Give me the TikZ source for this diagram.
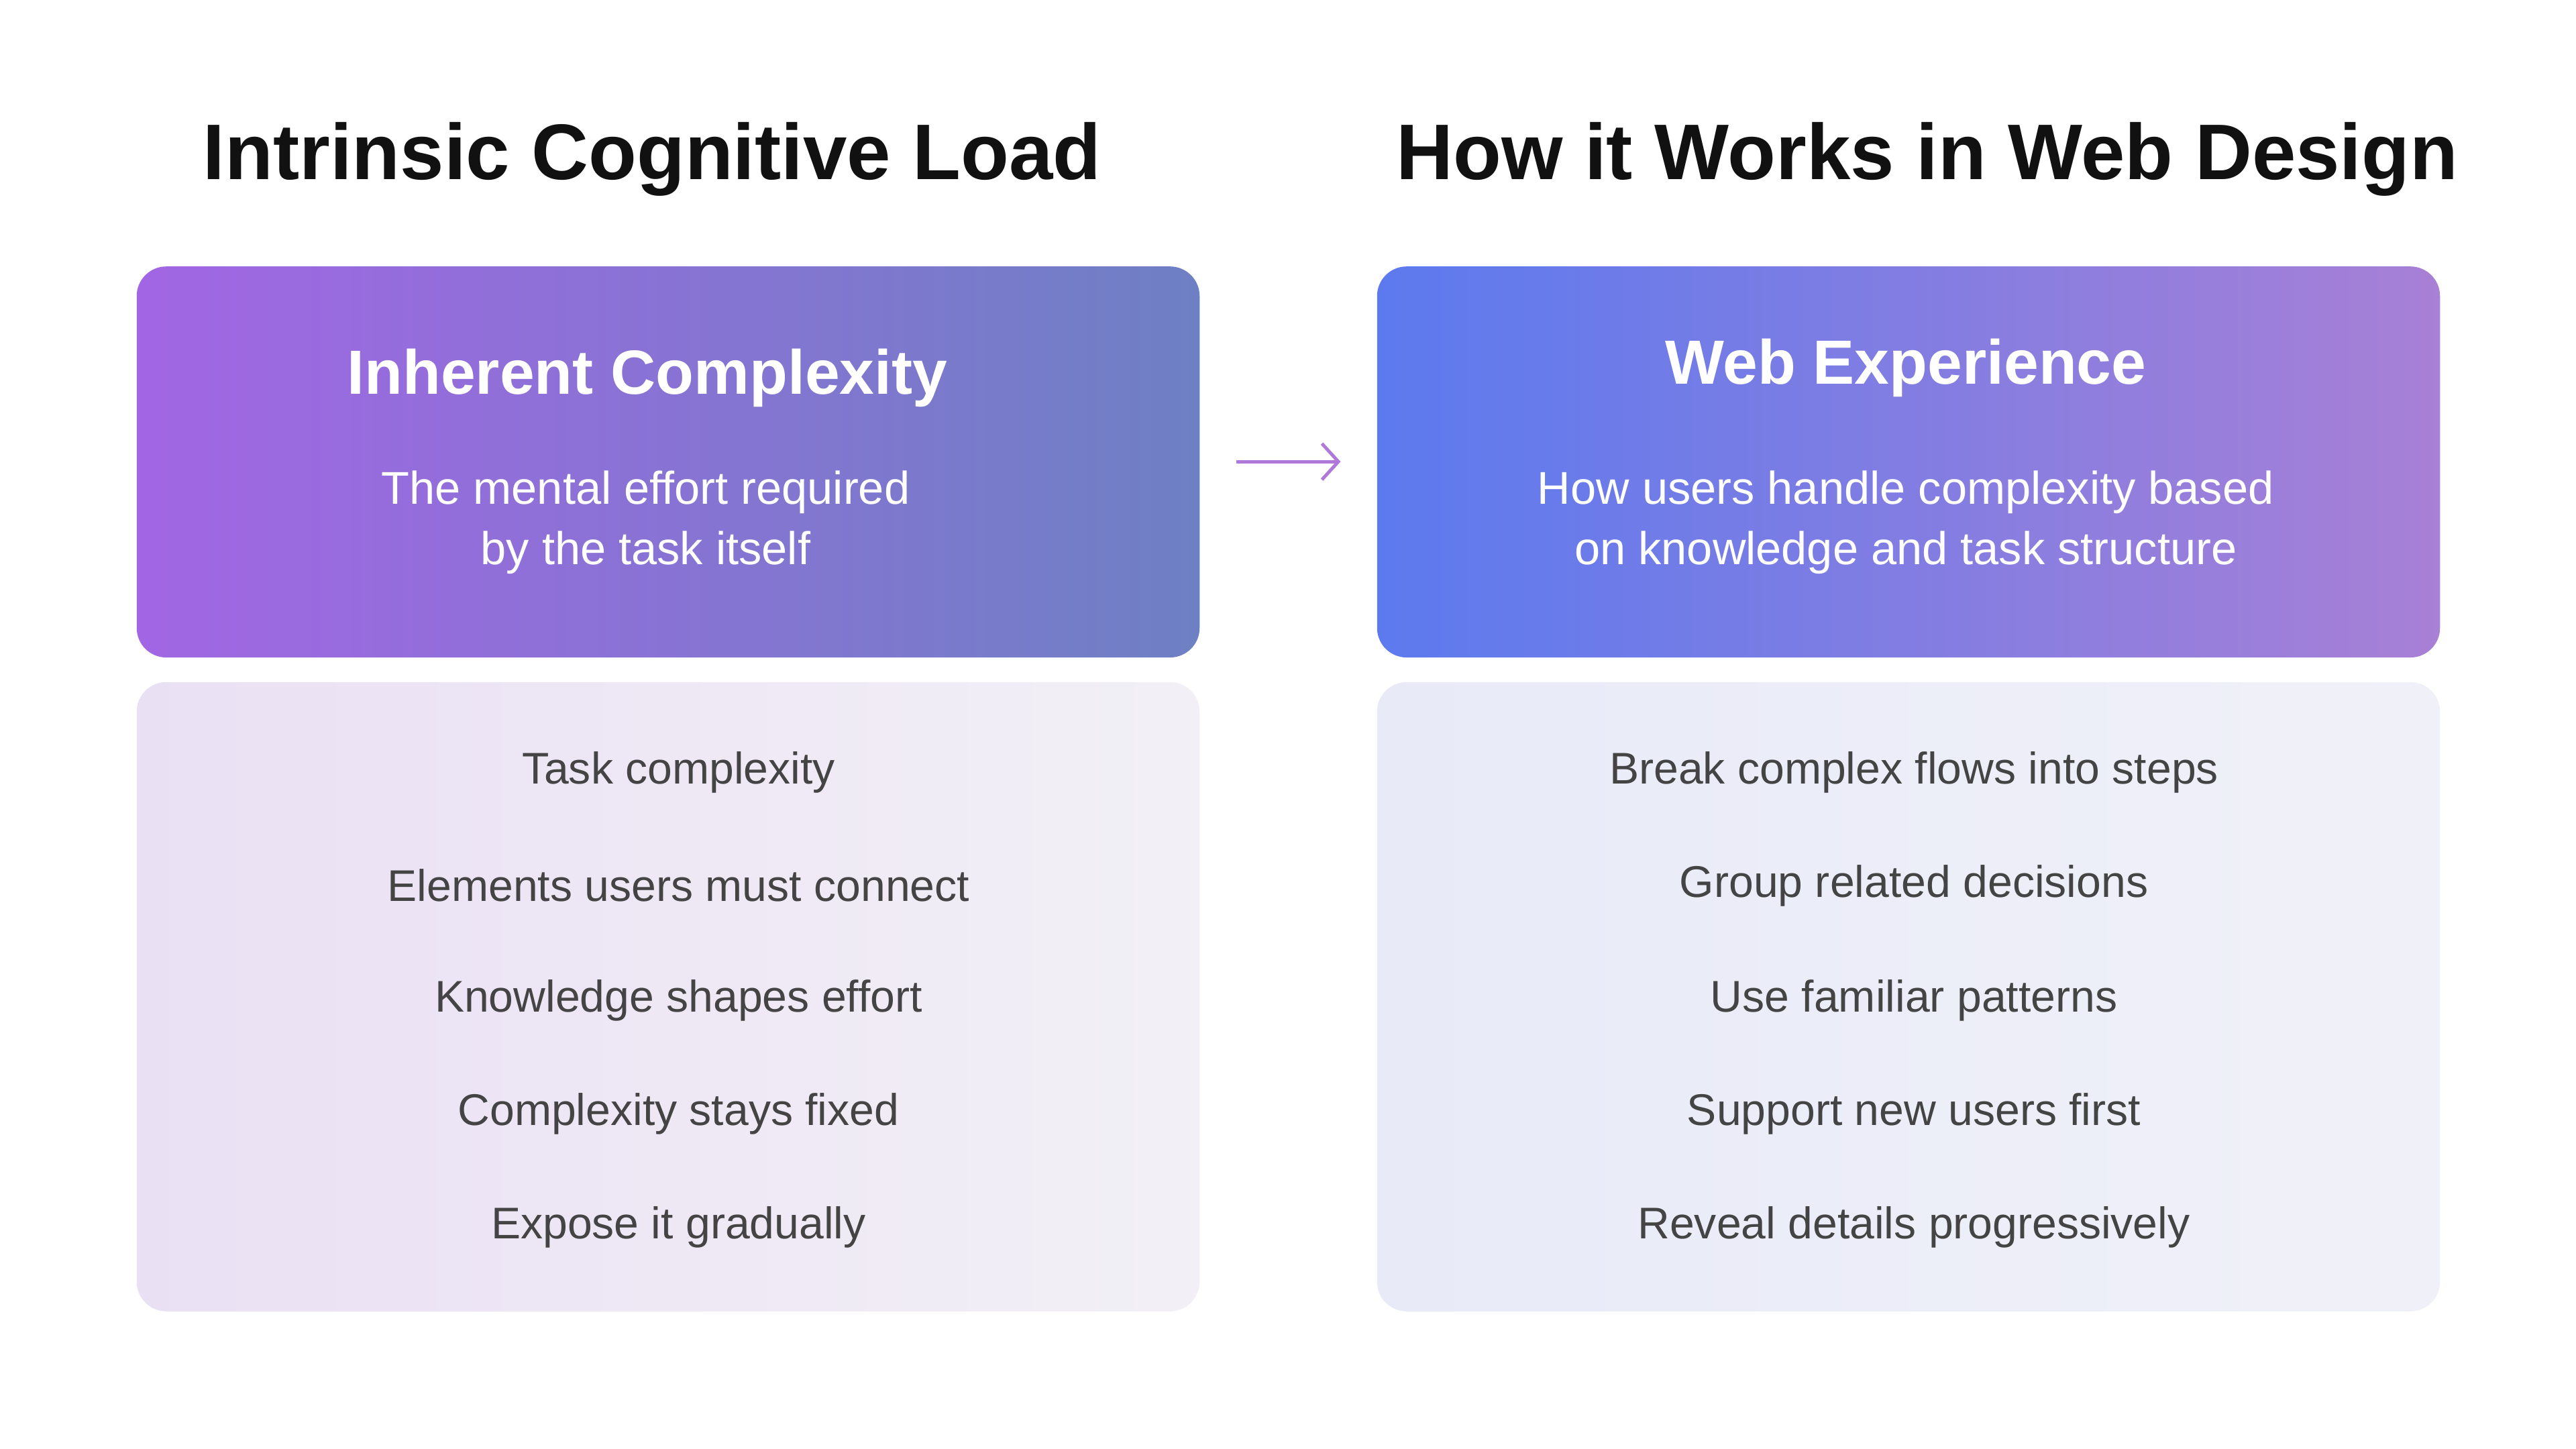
\documentclass[tikz,border=0pt]{standalone}
\usepackage{fontspec}
\usetikzlibrary{arrows.meta}
\setmainfont{Liberation Sans}
\definecolor{txt}{HTML}{444444}
\definecolor{ttl}{HTML}{111111}
\begin{document}
\begin{tikzpicture}[x=1pt,y=-1pt,
  hdr/.style={rounded corners=18pt,minimum width=647pt,minimum height=238pt,anchor=north west,inner sep=0pt,draw=none},
  low/.style={rounded corners=18pt,minimum width=647pt,minimum height=383pt,anchor=north west,inner sep=0pt,draw=none},
  ttlf/.style={font=\fontsize{48}{56}\selectfont\bfseries,text=ttl},
  hf/.style={font=\fontsize{38}{46}\selectfont\bfseries,text=white},
  sf/.style={font=\fontsize{28}{37}\selectfont,text=white,align=center},
  itf/.style={font=\fontsize{27}{32}\selectfont,text=txt}]
\useasboundingbox (0,0) rectangle (1568,882);
\fill[white] (0,0) rectangle (1568,882);
\node[ttlf] (t1) at (397,97) {Intrinsic Cognitive Load};
\node[ttlf] (t2) at (1173,97) {How it Works in Web Design};
\node[hdr,left color={rgb,255:red,162;green,102;blue,228},right color={rgb,255:red,110;green,128;blue,196}] (lh) at (83,162) {};
\node[hdr,left color={rgb,255:red,92;green,122;blue,238},right color={rgb,255:red,168;green,128;blue,214}] (rh) at (838,162) {};
\node[low,left color={rgb,255:red,234;green,224;blue,244},right color={rgb,255:red,242;green,240;blue,246}] (ll) at (83,415) {};
\node[low,left color={rgb,255:red,232;green,234;blue,248},right color={rgb,255:red,240;green,241;blue,248}] (rl) at (838,415) {};
\node[hf] (lt) at (394,230) {Inherent Complexity};
\node[sf] (ls) at (393,318) {The mental effort required\\by the task itself};
\node[hf] (rt) at (1160,224) {Web Experience};
\node[sf] (rs) at (1160,318) {How users handle complexity based\\on knowledge and task structure};
\coordinate (a1) at ([xshift=22pt,yshift=-119pt]lh.north east);
\coordinate (a2) at ([xshift=-22pt,yshift=-119pt]rh.north west);
\draw[->,color={rgb,255:red,176;green,120;blue,216},line width=2pt,>={Straight Barb[length=10pt,width=22pt]}] (a1) -- (a2);
\node[itf] (l1) at (413,470) {Task complexity};
\node[itf] (l2) at (413,539) {Elements users must connect};
\node[itf] (l3) at (413,609) {Knowledge shapes effort};
\node[itf] (l4) at (413,678) {Complexity stays fixed};
\node[itf] (l5) at (413,747) {Expose it gradually};
\node[itf] (r1) at (1165,470) {Break complex flows into steps};
\node[itf] (r2) at (1165,539) {Group related decisions};
\node[itf] (r3) at (1165,609) {Use familiar patterns};
\node[itf] (r4) at (1165,678) {Support new users first};
\node[itf] (r5) at (1165,747) {Reveal details progressively};
\end{tikzpicture}
\end{document}
